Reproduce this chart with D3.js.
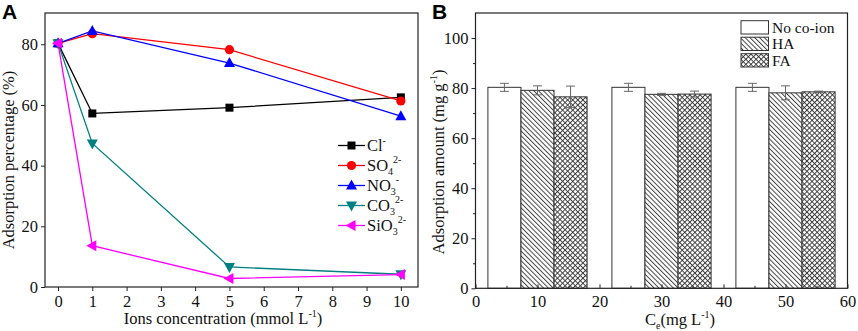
<!DOCTYPE html>
<html>
<head>
<meta charset="utf-8">
<script src="https://cdn.jsdelivr.net/npm/d3@7/dist/d3.min.js"></script>
<style>
body { margin: 0; background: #fff; }
.axis path, .axis line { stroke: #222; }
</style>
</head>
<body>
<div id="chart"></div>
<script>
// Panel A data
const ionConc = [0, 1, 5, 10];
const clValues = [80.3, 57.2, 59.1, 62.5];
const so4Values = [80.3, 83.5, 78.2, 61.3];
const no3Values = [80.3, 84.4, 73.8, 56.3];
const co3Values = [80.3, 47.3, 6.6, 4.2];
const sio3Values = [80.3, 13.6, 2.8, 4.1];
const xTicksA = [0, 1, 2, 3, 4, 5, 6, 7, 8, 9, 10];
const yTicksA = [0, 20, 40, 60, 80];

// Panel B data
const groupCenters = [10, 30, 50];
const noCoIon = [80.3, 80.3, 80.3];
const noCoIonErr = [1.6, 1.6, 1.6];
const haValues = [79.1, 77.5, 78.1];
const haErr = [1.8, 0.4, 2.8];
const faValues = [76.5, 77.6, 78.5];
const faErr = [4.3, 1.2, 0.3];
const xTicksB = [0, 10, 20, 30, 40, 50, 60];
const yTicksB = [0, 20, 40, 60, 80, 100];

const SERIF = "'Liberation Serif', 'Times New Roman', serif";
const FS = 16.5;

const svg = d3.select("#chart").append("svg")
  .attr("width", 858).attr("height", 331);

const defs = svg.append("defs");
const hatch = defs.append("pattern")
  .attr("id", "hatch").attr("patternUnits", "userSpaceOnUse")
  .attr("width", 3.4).attr("height", 3.4)
  .attr("patternTransform", "rotate(-45)");
hatch.append("rect").attr("width", 3.4).attr("height", 3.4).attr("fill", "#fff");
hatch.append("line").attr("x1", 0.5).attr("y1", 0).attr("x2", 0.5).attr("y2", 3.4)
  .attr("stroke", "#333").attr("stroke-width", 0.9);
const cross = defs.append("pattern")
  .attr("id", "cross").attr("patternUnits", "userSpaceOnUse")
  .attr("width", 3.6).attr("height", 3.6)
  .attr("patternTransform", "rotate(45)");
cross.append("rect").attr("width", 3.6).attr("height", 3.6).attr("fill", "#fff");
cross.append("line").attr("x1", 0.5).attr("y1", 0).attr("x2", 0.5).attr("y2", 3.6)
  .attr("stroke", "#333").attr("stroke-width", 0.9);
cross.append("line").attr("x1", 0).attr("y1", 0.5).attr("x2", 3.6).attr("y2", 0.5)
  .attr("stroke", "#333").attr("stroke-width", 0.9);

function styleTicks(sel) {
  sel.selectAll("text").style("font-family", SERIF).style("font-size", FS + "px").attr("fill", "#111");
}

/************* Panel A *************/
const A = { left: 45, right: 418, top: 13, bottom: 287 };
const xA = d3.scaleLinear().domain([-0.38, 10.5]).range([A.left, A.right]);
const yA = d3.scaleLinear().domain([0, 90.3]).range([A.bottom, A.top]);
const gA = svg.append("g");

gA.append("rect")
  .attr("x", A.left).attr("y", A.top)
  .attr("width", A.right - A.left).attr("height", A.bottom - A.top)
  .attr("fill", "none").attr("stroke", "#222").attr("stroke-width", 1.2);

gA.append("g").attr("class", "axis")
  .attr("transform", `translate(0,${A.bottom})`)
  .call(d3.axisBottom(xA).tickValues(xTicksA).tickSize(4).tickSizeOuter(0).tickPadding(4))
  .call(g => g.select(".domain").remove())
  .call(styleTicks);

gA.append("g").attr("class", "axis")
  .attr("transform", `translate(${A.left},0)`)
  .call(d3.axisLeft(yA).tickValues(yTicksA).tickSize(4).tickSizeOuter(0).tickPadding(3))
  .call(g => g.select(".domain").remove())
  .call(styleTicks);

const seriesA = [
  { name: "Cl", sub: "", sup: "-", values: clValues, color: "#000000", marker: "square" },
  { name: "SO", sub: "4", sup: "2-", values: so4Values, color: "#ff0000", marker: "circle" },
  { name: "NO", sub: "3", sup: "-", values: no3Values, color: "#0000ff", marker: "triUp" },
  { name: "CO", sub: "3", sup: "2-", values: co3Values, color: "#008080", marker: "triDown" },
  { name: "SiO", sub: "3", sup: "2-", values: sio3Values, color: "#ff00ff", marker: "triLeft" }
];

function drawMarker(g, type, x, y, color) {
  if (type === "square") {
    g.append("rect").attr("x", x - 4).attr("y", y - 4).attr("width", 8).attr("height", 8).attr("fill", color);
  } else if (type === "circle") {
    g.append("circle").attr("cx", x).attr("cy", y).attr("r", 4.6).attr("fill", color);
  } else {
    let pts;
    if (type === "triUp") pts = [[x, y - 6], [x - 5.5, y + 4], [x + 5.5, y + 4]];
    if (type === "triDown") pts = [[x, y + 6], [x - 5.5, y - 4], [x + 5.5, y - 4]];
    if (type === "triLeft") pts = [[x - 6, y], [x + 4, y - 5.5], [x + 4, y + 5.5]];
    g.append("polygon").attr("points", pts.map(p => p.join(",")).join(" ")).attr("fill", color);
  }
}

const line = d3.line().x((d, i) => xA(ionConc[i])).y(d => yA(d));
seriesA.forEach(s => {
  gA.append("path").datum(s.values)
    .attr("fill", "none").attr("stroke", s.color).attr("stroke-width", 1.3)
    .attr("d", line);
});
seriesA.forEach(s => {
  s.values.forEach((v, i) => drawMarker(gA, s.marker, xA(ionConc[i]), yA(v), s.color));
});

function addText(g, size) {
  return g.append("text").style("font-family", SERIF).style("font-size", (size || FS) + "px").attr("fill", "#111");
}

// legend A
const legA = gA.append("g");
seriesA.forEach((s, i) => {
  const y = 145.5 + i * 20;
  legA.append("line").attr("x1", 338).attr("x2", 365).attr("y1", y).attr("y2", y)
    .attr("stroke", s.color).attr("stroke-width", 1.3);
  drawMarker(legA, s.marker, 351.5, y, s.color);
  const t = addText(legA).attr("x", 367).attr("y", y + 5.5);
  t.append("tspan").text(s.name);
  if (s.sub) t.append("tspan").style("font-size", "10px").attr("dy", 4).text(s.sub);
  t.append("tspan").style("font-size", "10px").attr("dy", s.sub ? -12 : -7).text(s.sup);
});

addText(gA)
  .attr("transform", `translate(14,160) rotate(-90)`)
  .attr("text-anchor", "middle")
  .text("Adsorption percentage (%)");

const xtA = addText(gA).attr("x", 223).attr("y", 324).attr("text-anchor", "middle");
xtA.append("tspan").text("Ions concentration (mmol L");
xtA.append("tspan").style("font-size", "10px").attr("dy", -7).text("-1");
xtA.append("tspan").attr("dy", 7).text(")");

svg.append("text").attr("x", 2).attr("y", 19)
  .style("font-family", "'Liberation Sans', Arial, sans-serif").style("font-weight", "bold").style("font-size", "21px")
  .text("A");

/************* Panel B *************/
const B = { left: 475.5, right: 847.5, top: 13, bottom: 288.3 };
const xB = d3.scaleLinear().domain([0, 60]).range([B.left, B.right]);
const yB = d3.scaleLinear().domain([0, 110]).range([B.bottom, B.top]);
const gB = svg.append("g");

const barW = 16 / 3;
const seriesB = [
  { name: "No co-ion", values: noCoIon, err: noCoIonErr, fill: "#fff", offset: -barW },
  { name: "HA", values: haValues, err: haErr, fill: "url(#hatch)", offset: 0 },
  { name: "FA", values: faValues, err: faErr, fill: "url(#cross)", offset: barW }
];

seriesB.forEach(s => {
  gB.selectAll(null).data(s.values).enter().append("rect")
    .attr("x", (d, i) => xB(groupCenters[i] + s.offset - barW / 2))
    .attr("width", xB(barW) - xB(0))
    .attr("y", d => yB(d))
    .attr("height", d => yB(0) - yB(d))
    .attr("fill", s.fill).attr("stroke", "#333").attr("stroke-width", 1);
});
seriesB.forEach(s => {
  s.values.forEach((v, i) => {
    const cx = xB(groupCenters[i] + s.offset);
    const g = gB.append("g").attr("stroke", "#666").attr("stroke-width", 1);
    g.append("line").attr("x1", cx).attr("x2", cx).attr("y1", yB(v - s.err[i])).attr("y2", yB(v + s.err[i]));
    g.append("line").attr("x1", cx - 4.5).attr("x2", cx + 4.5).attr("y1", yB(v + s.err[i])).attr("y2", yB(v + s.err[i]));
    g.append("line").attr("x1", cx - 4.5).attr("x2", cx + 4.5).attr("y1", yB(v - s.err[i])).attr("y2", yB(v - s.err[i]));
  });
});

gB.append("rect")
  .attr("x", B.left).attr("y", B.top)
  .attr("width", B.right - B.left).attr("height", B.bottom - B.top)
  .attr("fill", "none").attr("stroke", "#222").attr("stroke-width", 1.2);

// x axis B: inward ticks with minor ticks
gB.append("g").attr("class", "axis")
  .attr("transform", `translate(0,${B.bottom})`)
  .call(d3.axisBottom(xB).tickValues(d3.range(5, 60, 10)).tickSize(-2.5).tickFormat(""))
  .call(g => g.select(".domain").remove());
gB.append("g").attr("class", "axis")
  .attr("transform", `translate(0,${B.bottom})`)
  .call(d3.axisBottom(xB).tickValues(xTicksB).tickSize(-4).tickSizeOuter(0).tickPadding(7))
  .call(g => g.select(".domain").remove())
  .call(styleTicks);

gB.append("g").attr("class", "axis")
  .attr("transform", `translate(${B.left},0)`)
  .call(d3.axisLeft(yB).tickValues(d3.range(10, 110, 20)).tickSize(2.5).tickFormat(""))
  .call(g => g.select(".domain").remove());
gB.append("g").attr("class", "axis")
  .attr("transform", `translate(${B.left},0)`)
  .call(d3.axisLeft(yB).tickValues(yTicksB).tickSize(4).tickSizeOuter(0).tickPadding(3))
  .call(g => g.select(".domain").remove())
  .call(styleTicks);

// legend B
seriesB.forEach((s, i) => {
  const y = 20.7 + i * 16.5;
  gB.append("rect").attr("x", 741).attr("y", y).attr("width", 27.5).attr("height", 13.3)
    .attr("fill", s.fill).attr("stroke", "#333").attr("stroke-width", 1);
  addText(gB, 15.5).attr("x", 772).attr("y", y + 12).text(s.name);
});

addText(gB)
  .attr("transform", `translate(444,162) rotate(-90)`)
  .attr("text-anchor", "middle")
  .call(t => {
    t.append("tspan").text("Adsorption amount (mg g");
    t.append("tspan").style("font-size", "10px").attr("dy", -7).text("-1");
    t.append("tspan").attr("dy", 7).text(")");
  });

const xtB = addText(gB).attr("x", 680).attr("y", 325).attr("text-anchor", "middle");
xtB.append("tspan").text("C");
xtB.append("tspan").style("font-size", "10px").attr("dy", 4).text("e");
xtB.append("tspan").attr("dy", -4).text("(mg L");
xtB.append("tspan").style("font-size", "10px").attr("dy", -7).text("-1");
xtB.append("tspan").attr("dy", 7).text(")");

svg.append("text").attr("x", 432).attr("y", 19)
  .style("font-family", "'Liberation Sans', Arial, sans-serif").style("font-weight", "bold").style("font-size", "21px")
  .text("B");
</script>
</body>
</html>
